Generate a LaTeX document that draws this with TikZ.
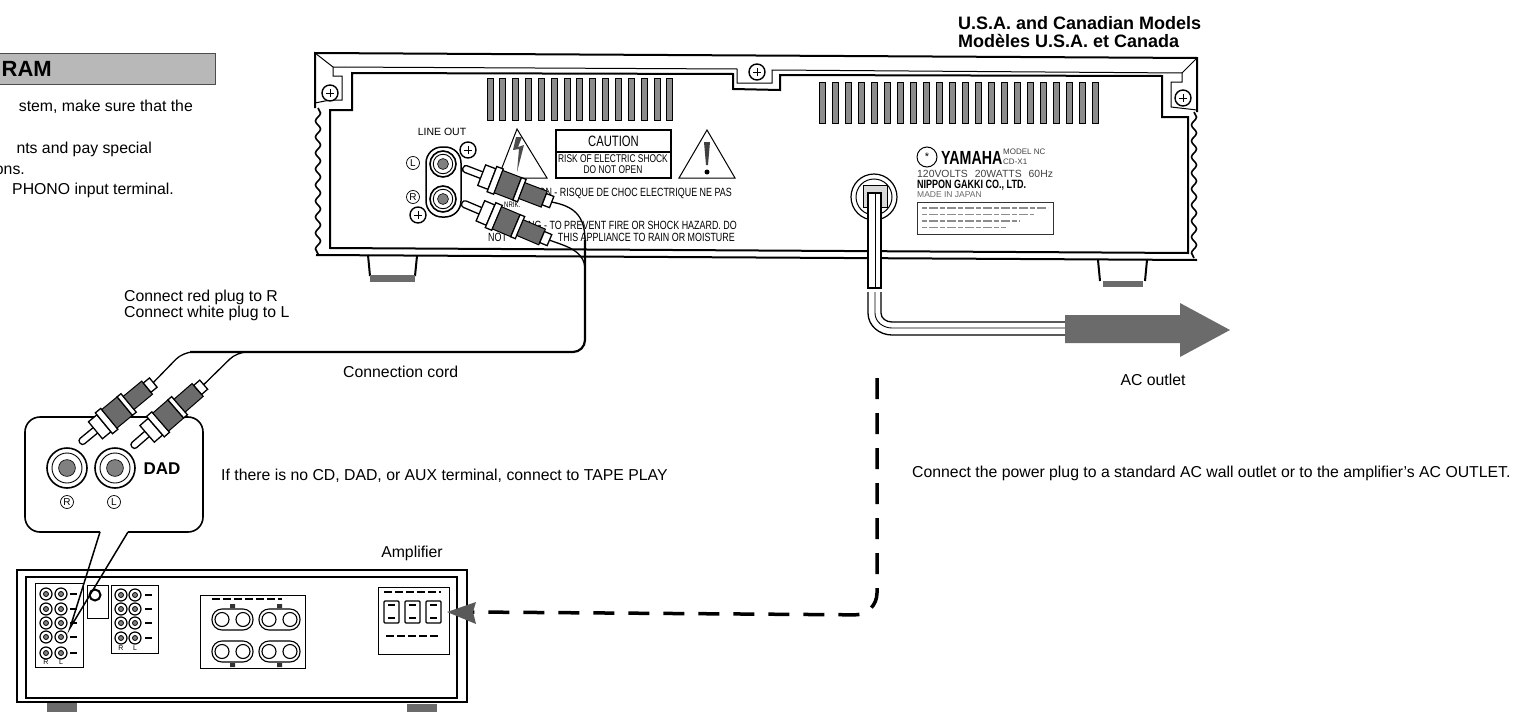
\documentclass[tikz,border=0pt]{standalone}
\usepackage{fontspec}
\setmainfont{Liberation Sans}
\newfontfamily\signfont[FakeStretch=0.75]{Liberation Sans}
\usetikzlibrary{decorations.pathmorphing}

\newcommand{\fs}[1]{\fontsize{#1}{#1}\selectfont}

\begin{document}
\begin{tikzpicture}[x=1pt,y=-1pt,
	case line/.style={draw,line width=2pt},
	thin line/.style={draw,line width=1pt},
	cord line/.style={draw,line width=2.2pt,rounded corners=12pt},
	branch line/.style={draw,line width=1.3pt,rounded corners=10pt},
	wavy line/.style={draw,line width=1.6pt,decorate,decoration={snake,segment length=16pt,amplitude=2.5pt}},
	halftone/.style={fill=black!58},
	note node/.style={inner sep=0pt,font=\fs{15.8}},
	sign node/.style={inner sep=0pt,font=\signfont\fs{11.2}},
	warn node/.style={inner sep=0pt,font=\signfont\fs{11.9}},
	tiny node/.style={inner sep=0pt,font=\fs{7}},
	pics/screw/.style={code={
		\draw[line width=1.4pt,fill=white] (0,0) circle[radius=8];
		\draw[line width=1pt] (-4,0) -- (4,0) (0,-4) -- (0,4);
	}},
	pics/jack/.style={code={
		\draw[line width=1.6pt,fill=white] (0,0) circle[radius=#1];
		\draw[line width=.9pt] (0,0) circle[radius=.75*#1];
		\draw[line width=.6pt,fill=black!50] (0,0) circle[radius=.42*#1];
	}},
	pics/minijack/.style={code={
		\draw[line width=1.2pt,fill=white] (0,0) circle[radius=6];
		\draw[line width=.8pt,fill=black!50] (0,0) circle[radius=2.5];
	}},
	pics/rcaplug/.style={code={
		\draw[line width=1.3pt,fill=white,rounded corners=3pt] (0,-3.5) rectangle (24,3.5);
		\draw[line width=1.3pt,fill=white] (20,-11) rectangle (31,11);
		\draw[line width=1.3pt,fill=white] (31,-13.5) rectangle (38,13.5);
		\draw[line width=1pt,halftone] (38,-12) rectangle (58,12);
		\draw[line width=1.3pt,fill=white] (58,-12) rectangle (63,12);
		\draw[line width=1pt,halftone] (63,-8.5) rectangle (87,8.5);
		\draw[line width=1.3pt,fill=white] (87,-6) rectangle (95,6);
		\coordinate (-end) at (95,0);
	}}]
	\useasboundingbox (0,0) rectangle (1513,712);

	% manual page text on the left
	\path[fill=black!28,draw=black!70,line width=1pt] (-2,53) -- (215,53) -- (215,84) -- (-2,84);
	\node[inner sep=0pt,anchor=east,font=\bfseries\fs{22}] (title) at (52,69) {RAM};
	\node[note node,anchor=east] (noteA) at (193,107) {stem, make sure that the};
	\node[note node,anchor=east] (noteB) at (152,149) {nts and pay special};
	\node[note node,anchor=east] (noteC) at (25,170) {ons.};
	\node[note node,anchor=east] (noteD) at (174,190) {PHONO input terminal.};

	\node[inner sep=0pt,anchor=west,font=\bfseries\fs{18}] (usa) at (958,23) {U.S.A. and Canadian Models};
	\node[inner sep=0pt,anchor=west,font=\bfseries\fs{18}] (modeles) at (958,41) {Modèles U.S.A. et Canada};

	% feet of the player
	\draw[case line] (368,255) -- (370,276) (417,256) -- (415,276);
	\path[halftone] (370,275) rectangle (415,282);
	\draw[case line] (1098,260) -- (1100,281) (1147,260) -- (1145,281);
	\path[halftone] (1103,281) rectangle (1143,287);

	% player case
	\path[case line] (315,108) -- (315,53) -- (1197,58) -- (1197,112);
	\path[wavy line] (318,108) -- (318,255);
	\path[wavy line] (1194,112) -- (1194,258);
	\path[case line] (316,255) -- (1197,260);
	\path[case line] (352,73) -- (352,110) -- (330,110) -- (330,248) -- (1188,253) -- (1188,117) -- (1162,117)
		-- (1162,76) -- (780,75) -- (780,90) -- (733,89) -- (733,74) -- cycle;
	\path[thin line] (315,53) -- (333,67) -- (333,76) -- (342,76) -- (342,100) -- (330,100) -- (315,103);
	\path[thin line] (333,67) -- (737,69) -- (737,83) -- (772,83) -- (772,70) -- (1182,73);
	\path[thin line] (1197,58) -- (1182,73) -- (1182,82) -- (1171,82) -- (1171,107) -- (1197,110);
	\pic (screwA) at (330,93) {screw};
	\pic (screwB) at (757,72) {screw};
	\pic (screwC) at (1183,98) {screw};

	% vents
	\foreach \i in {0,...,14}
		\draw[line width=1pt,fill=black!45] (490+12.85*\i-3,78) rectangle (490+12.85*\i+3,120);
	\foreach \i in {0,...,21}
		\draw[line width=1pt,fill=black!45] (822+13*\i-3,82) rectangle (822+13*\i+3,123);

	% line out
	\node[tiny node,font=\fs{10.5}] (lineout) at (442,132) {LINE OUT};
	\draw[line width=1.5pt,fill=white,rounded corners=16pt] (426,147) rectangle (461,217);
	\pic (jackL) at (443,164) {jack=13};
	\pic (jackR) at (443,199) {jack=13};
	\pic (screwD) at (468,150) {screw};
	\pic (screwE) at (418,215) {screw};
	\node[draw,circle,line width=.7pt,inner sep=0pt,minimum size=13pt,font=\fs{10}] (markL) at (413,163) {L};
	\node[draw,circle,line width=.7pt,inner sep=0pt,minimum size=13pt,font=\fs{10}] (markR) at (413,197) {R};

	% warning labels
	\draw[line width=1pt] (517,129) -- (498,178) -- (547,178) -- cycle;
	\path[fill=black!70] (516,137) -- (513,150) -- (519,149) -- (517,172) -- (524,145) -- (518,147) -- (522,137) -- cycle;
	\draw[line width=1.2pt] (556,130) rectangle (671,178) (556,152) -- (671,152);
	\node[sign node,font=\signfont\fs{15}] (caution) at (613.5,141) {CAUTION};
	\node[sign node] (riskA) at (613,159) {RISK OF ELECTRIC SHOCK};
	\node[sign node] (riskB) at (613,170) {DO NOT OPEN};
	\draw[line width=1pt] (707,130) -- (679,178) -- (735,178) -- cycle;
	\path[fill=black!75] (704,142) -- (710,142) -- (708,165) -- (706,165) -- cycle;
	\path[fill=black] (707,172) circle[radius=2.5];
	\node[warn node,anchor=east] (frenchA) at (732,193) {ON - RISQUE DE CHOC ELECTRIQUE NE PAS};
	\node[warn node,anchor=east] (warnA) at (737,225) {NG - TO PREVENT FIRE OR SHOCK HAZARD. DO};
	\node[warn node,anchor=west] (warnB) at (488,237) {NOT};
	\node[warn node,anchor=east] (warnC) at (735,237) {THIS APPLIANCE TO RAIN OR MOISTURE};

	% rating plate
	\draw[line width=1pt] (927,157) circle[radius=10];
	\node[inner sep=0pt,font=\fs{11}] (emblem) at (927,157) {*};
	\node[inner sep=0pt,anchor=west,font=\signfont\bfseries\fs{19}] (yamaha) at (941,158) {YAMAHA};
	\node[tiny node,anchor=west,font=\fs{8},text=black!75] (model) at (1003,152) {MODEL NC};
	\node[tiny node,anchor=west,font=\fs{8},text=black!75] (cdx) at (1003,162) {CD-X1};
	\node[tiny node,anchor=west,font=\fs{10.4},text=black!75] (volts) at (917,174) {120VOLTS\hspace{7pt}20WATTS\hspace{7pt}60Hz};
	\node[tiny node,anchor=west,font=\signfont\bfseries\fs{12}] (nippon) at (917,185) {NIPPON GAKKI CO., LTD.};
	\node[tiny node,anchor=west,font=\fs{8.5},text=black!60] (japan) at (917,195) {MADE IN JAPAN};
	\draw[line width=.8pt,black!80] (917,202) rectangle (1053,234);
	\foreach \i in {0,1,2,3}
		\draw[line width=1.4pt,black!45,dash pattern=on 5pt off 2pt on 9pt off 2pt] (922,208+6.5*\i) -- (1048-14*\i,208+6.5*\i);

	% power cord and arrow
	\draw[line width=1.2pt,fill=white] (874,197) circle[radius=23];
	\draw[line width=1pt] (874,197) circle[radius=18];
	\draw[line width=1pt,fill=black!15] (863,185) rectangle (887,207);
	\draw[line width=1.3pt,fill=white] (868,193) rectangle (881,288);
	\draw[line width=.8pt] (875,193) -- (875,288);
	\coordinate (plugTop) at (868,292);
	\coordinate (plugMid) at (875,292);
	\coordinate (plugIn) at (881,292);
	\draw[line width=1.3pt] (plugTop) -- (868,313) to[out=-90,in=180] (892,335) -- (1066,335);
	\draw[line width=.9pt] (plugMid) -- (875,313) to[out=-90,in=180] (892,328) -- (1066,328);
	\draw[line width=1.3pt] (plugIn) -- (881,313) to[out=-90,in=180] (892,322) -- (1066,322);
	\path[halftone] (1065,315) -- (1180,315) -- (1180,303) -- (1230,330) -- (1180,357) -- (1180,343) -- (1065,343) -- cycle;
	\node[note node] (acoutlet) at (1153,380) {AC outlet};

	% other notes
	\node[note node,anchor=west] (redplug) at (124,297) {Connect red plug to R};
	\node[note node,anchor=west] (whiteplug) at (124,313) {Connect white plug to L};
	\node[note node,anchor=west] (cord) at (343,372) {Connection cord};
	\node[note node,anchor=west] (noterm) at (221,476) {If there is no CD, DAD, or AUX terminal, connect to TAPE PLAY};
	\node[note node,anchor=west] (wallnote) at (912,473) {Connect the power plug to a standard AC wall outlet or to the amplifier's AC OUTLET.};
	\node[note node] (ampname) at (412,553) {Amplifier};

	% amplifier
	\draw[line width=2.4pt] (17,570) rectangle (467,702);
	\draw[line width=2pt] (26,577) rectangle (457,698);
	\path[halftone] (47,703) rectangle (77,712);
	\path[halftone] (407,704) rectangle (437,712);

	\draw[thin line] (35,583) rectangle (83,667);
	\foreach \y in {594,609,623,637,653} {
		\pic at (46,\y) {minijack};
		\pic at (61,\y) {minijack};
		\draw[line width=1.4pt] (70,\y) -- (77,\y);
	}
	\node[tiny node] (inR) at (46,662) {R};
	\node[tiny node] (inL) at (61,662) {L};
	\draw[thin line] (87,585) rectangle (108,618);
	\draw[line width=2pt] (95,595) circle[radius=5.5];
	\draw[thin line] (111,585) rectangle (158,653);
	\foreach \y in {595,609,623,638} {
		\pic at (121,\y) {minijack};
		\pic at (135,\y) {minijack};
		\draw[line width=1.4pt] (145,\y) -- (152,\y);
	}
	\node[tiny node] (outR) at (121,648) {R};
	\node[tiny node] (outL) at (135,648) {L};

	% speaker terminals
	\draw[thin line] (200,595) rectangle (305,668);
	\foreach \x/\y in {212/609,259/609,212/641,259/641} {
		\draw[line width=1.1pt,rounded corners=10pt] (\x,\y) rectangle (\x+41,\y+21);
		\draw[line width=1.1pt,fill=white] (\x+10,\y+10.5) circle[radius=7];
		\draw[line width=1.1pt,fill=white] (\x+31,\y+10.5) circle[radius=7];
	}
	\draw[line width=1.2pt,dash pattern=on 8pt off 3pt] (212,599) -- (282,599);
	\path[fill=black!80] (230,604) rectangle (235,608) (277,604) rectangle (282,608) (230,663) rectangle (235,667) (277,663) rectangle (282,667);

	% outlets
	\draw[thin line] (378,587) rectangle (449,654);
	\foreach \x in {384,405,426} {
		\draw[line width=1.2pt,rounded corners=1pt] (\x,601) rectangle (\x+15,623);
		\draw[line width=1.6pt] (\x+4,605) -- (\x+11,605) (\x+4,618) -- (\x+11,618);
	}
	\draw[line width=1.2pt,dash pattern=on 8pt off 3pt] (384,592) -- (441,592);
	\draw[line width=1.2pt,dash pattern=on 8pt off 3pt] (386,636) -- (440,636);

	% callout
	\draw[line width=1.6pt,rounded corners=15pt] (100,532) -- (25,532) -- (25,417) -- (203,417) -- (203,532) -- (128,532);
	\draw[line width=1.5pt] (100,532) -- (70,628) -- (128,532);
	\pic (dadR) at (67,468) {jack=20};
	\pic (dadL) at (115,468) {jack=20};
	\node[inner sep=0pt,font=\bfseries\fs{17}] (dad) at (162,469) {DAD};
	\node[draw,circle,line width=.7pt,inner sep=0pt,minimum size=13pt,font=\fs{10}] (dadmarkR) at (67,502) {R};
	\node[draw,circle,line width=.7pt,inner sep=0pt,minimum size=13pt,font=\fs{10}] (dadmarkL) at (114,502) {L};

	% plugs and connection cord
	\pic (plugA) at (463,168) [rotate=-21] {rcaplug};
	\pic (plugB) at (462,203) [rotate=-23] {rcaplug};
	\pic (plugR) at (80,443) [rotate=39.5] {rcaplug};
	\pic (plugL) at (132,447) [rotate=41] {rcaplug};
	\node[sign node,anchor=west,font=\signfont\fs{8}] (frag) at (504,205) {NRIK.};
	\coordinate (cordBend) at (585,352);
	\draw[line width=1.3pt] (plugA-end) .. controls (573,206) and (585,215) .. (585,240);
	\draw[line width=1.3pt] (plugB-end) .. controls (565,246) and (585,250) .. (585,270);
	\path[cord line] (585,240) -- (cordBend) -- (190,352);
	\path[branch line] (plugL-end) -- (237,352) -- (260,352);
	\path[branch line] (plugR-end) -- (183,352) -- (205,352);

	% dashed guide to the amplifier outlet
	\coordinate (guideStart) at (877,378);
	\coordinate (guideEnd) at (470,612);
	\draw[line width=3.5pt,dash pattern=on 21pt off 14pt,rounded corners=22pt] (guideStart) -- (877,615) -- (guideEnd);
	\path[fill=black!65] (447,612) -- (476,602) -- (473,612) -- (476,624) -- cycle;
\end{tikzpicture}
\end{document}
